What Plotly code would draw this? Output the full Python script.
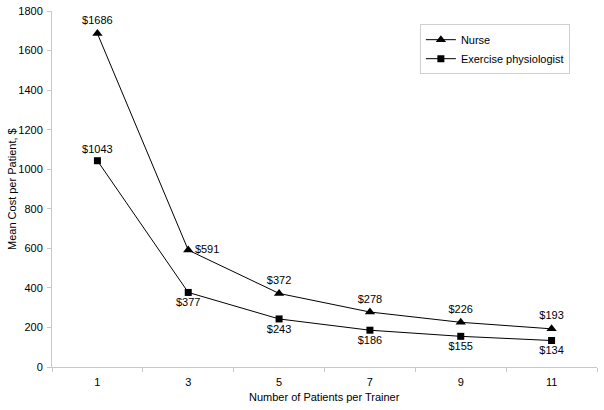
import plotly.graph_objects as go

# Daten
trainer_patienten = ['1', '3', '5', '7', '9', '11']
kosten_nurse = [1686, 591, 372, 278, 226, 193]
kosten_physio = [1043, 377, 243, 186, 155, 134]

pos_nurse = ['top center', 'middle right', 'top center', 'top center', 'top center', 'top center']
pos_physio = ['top center', 'bottom center', 'bottom center', 'bottom center', 'bottom center', 'bottom center']

fig = go.Figure()

fig.add_trace(go.Scatter(
    x=trainer_patienten, y=kosten_nurse, name='Nurse',
    mode='lines+markers+text',
    line=dict(color='black', width=1),
    marker=dict(symbol='triangle-up', size=9, color='black'),
    text=['$' + str(v) for v in kosten_nurse],
    textposition=pos_nurse,
    textfont=dict(size=11, color='black'),
))

fig.add_trace(go.Scatter(
    x=trainer_patienten, y=kosten_physio, name='Exercise physiologist',
    mode='lines+markers+text',
    line=dict(color='black', width=1),
    marker=dict(symbol='square', size=7, color='black'),
    text=['$' + str(v) for v in kosten_physio],
    textposition=pos_physio,
    textfont=dict(size=11, color='black'),
))

# Achsentitel als Annotationen (genauere Lage)
fig.add_annotation(
    text='Mean Cost per Patient, $', textangle=-90,
    xref='paper', yref='paper', x=0, y=0.5,
    xanchor='center', yanchor='middle', xshift=-40,
    showarrow=False, font=dict(size=11),
)
fig.add_annotation(
    text='Number of Patients per Trainer',
    xref='paper', yref='paper', x=0.5, y=0,
    xanchor='center', yanchor='middle', yshift=-30,
    showarrow=False, font=dict(size=11),
)

# Layout anpassen
fig.update_layout(
    width=604, height=410,
    margin=dict(l=52, r=7, t=11, b=43),
    paper_bgcolor='white', plot_bgcolor='white',
    font=dict(family='Liberation Sans, Arial, sans-serif', size=11, color='black'),
    showlegend=True,
    legend=dict(
        x=0.675, y=0.963, xanchor='left', yanchor='top',
        bordercolor='#d0d0d0', borderwidth=1,
        font=dict(size=11),
        tracegroupgap=0, itemwidth=30,
    ),
    xaxis=dict(
        type='category', automargin=False,
        range=[-0.5, len(trainer_patienten) - 0.5],
        showline=True, linecolor='#c8c8c8', linewidth=1,
        ticks='outside', tickson='boundaries', ticklen=4, tickcolor='#c8c8c8',
        ticklabelstandoff=5,
        showgrid=False, zeroline=False,
    ),
    yaxis=dict(
        automargin=False,
        range=[0, 1800], dtick=200,
        showline=True, linecolor='#c8c8c8', linewidth=1,
        ticks='outside', ticklen=4, tickcolor='#c8c8c8',
        ticklabelstandoff=2, ticklabeloverflow='allow',
        showgrid=False, zeroline=False,
    ),
)

# Body-Rand entfernen, damit die Grafik bei (0,0) sitzt
fig.write_html('out.html', config={'displayModeBar': False},
               post_script="document.body.style.margin='0';")
